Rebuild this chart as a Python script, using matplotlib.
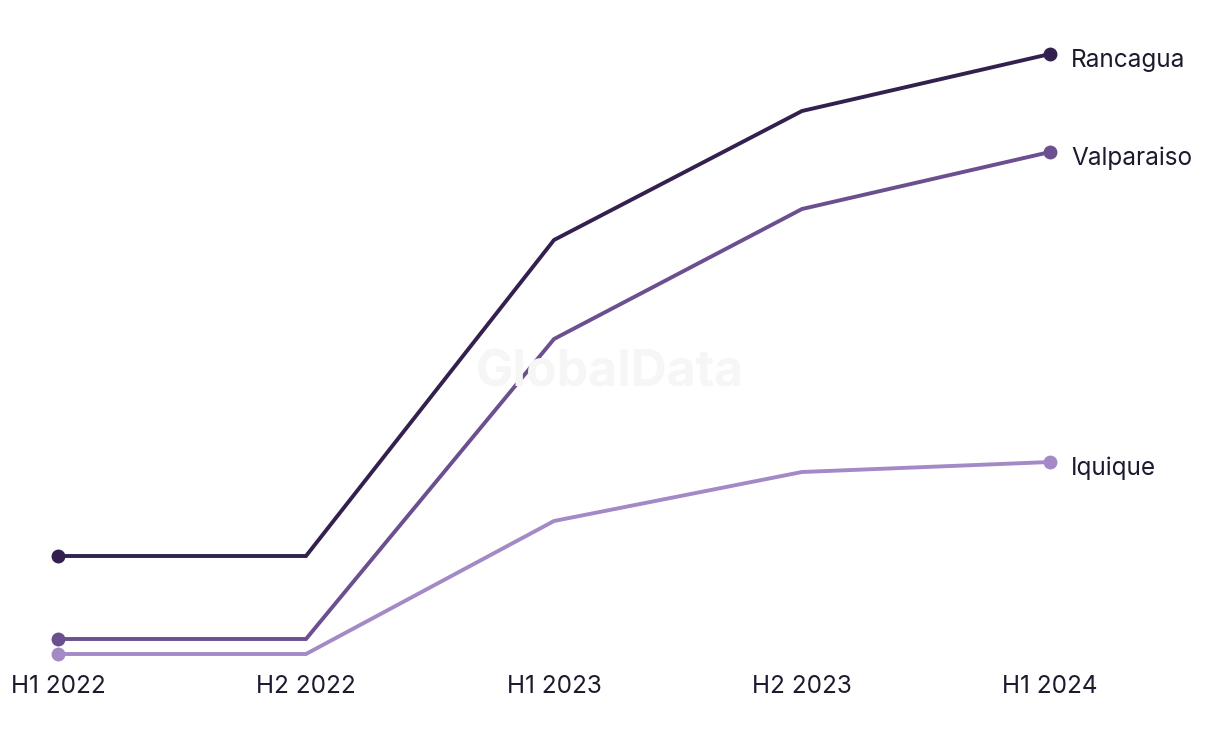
import matplotlib
matplotlib.use("Agg")
import matplotlib.pyplot as plt
from matplotlib.transforms import offset_copy

plt.rcParams['font.family'] = ['Inter', 'DejaVu Sans']

periods = ["H1 2022", "H2 2022", "H1 2023", "H2 2023", "H1 2024"]
rancagua = [98, 98, 414, 543, 600]
valparaiso = [15, 15, 315, 445, 502]
iquique = [0, 0, 133, 182, 192]

series = [
    ("Rancagua", rancagua, "#33204f"),
    ("Valparaiso", valparaiso, "#6b4f8f"),
    ("Iquique", iquique, "#a389c6"),
]

W, H = 1220, 744
fig = plt.figure(figsize=(W / 100, H / 100), dpi=100)
ax = fig.add_axes([58 / W, (H - 654) / H, (1050 - 58) / W, 600 / H])

fig.text(610 / W, 1 - 373 / H, "GlobalData", ha="center", va="center",
         fontsize=36, fontweight="bold", color="#f6f6f6", zorder=0)

label_tr = offset_copy(ax.transData, fig=fig, x=0, y=-4.5, units="points")

x = list(range(len(periods)))
for name, vals, col in series[::-1]:
    ax.plot(x, vals, color=col, lw=2.8, clip_on=False, solid_joinstyle="miter")
    ax.plot([x[0], x[-1]], [vals[0], vals[-1]], "o", color=col, ms=9, clip_on=False)
    ax.text(x[-1] + 0.085, vals[-1], name, va="center", ha="left",
            fontsize=17.5, color="#1c1a2e", transform=label_tr)

ax.set_xlim(0, 4)
ax.set_ylim(0, 600)
ax.set_xticks(x)
ax.set_xticklabels(periods, fontsize=17.5, color="#1c1a2e")
ax.tick_params(axis="x", length=0, pad=15)
ax.set_yticks([])
for s in ax.spines.values():
    s.set_visible(False)
ax.patch.set_alpha(0)

fig.savefig("out.png", dpi=100)
